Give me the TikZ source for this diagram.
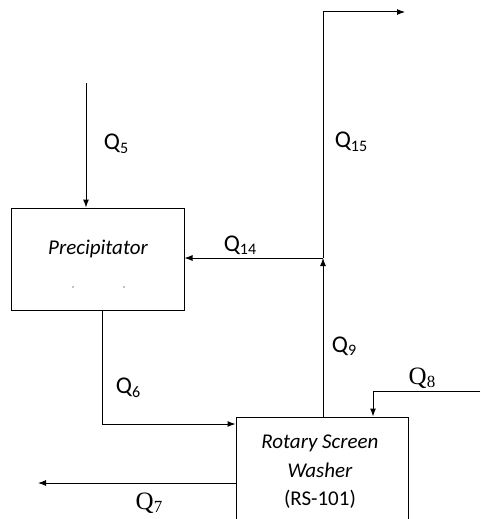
\documentclass[tikz,border=0pt]{standalone}
\usepackage{fontspec}
\setmainfont{Carlito}
\newfontfamily\serifq{Liberation Serif}
\usetikzlibrary{arrows.meta}
\newcommand\qsans[2]{\fontsize{24}{24}\selectfont #1\raisebox{-3.5pt}{\fontsize{16}{16}\selectfont #2}}
\newcommand\qserif[2]{{\serifq\fontsize{25}{25}\selectfont #1\raisebox{-3.5pt}{\fontsize{17}{17}\selectfont #2}}}
\tikzset{
  flow/.style={line width=1pt,-{Latex[length=8pt,width=6pt]}},
  unit/.style={draw,line width=1pt,rectangle,inner sep=0pt},
  lbl/.style={inner sep=0pt,anchor=center},
  utext/.style={inner sep=0pt,font=\fontsize{21}{28.5}\selectfont\itshape,align=center}
}
\begin{document}
\begin{tikzpicture}[x=1pt,y=-1pt]
\clip (0,0) rectangle (480,519);
\fill[white] (0,0) rectangle (480,519);
% units
\node[unit,minimum width=173pt,minimum height=102pt] (prec) at (97.5,259) {};
\node[utext] (prectext) at (98,249) {Precipitator};
\fill (73,287) circle (0.6pt);
\fill (124,287) circle (0.6pt);
\node[unit,minimum width=172pt,minimum height=140pt] (rsw) at (322,487) {};
\node[utext] (rswtext) at (320,472) {Rotary Screen\\Washer\\\upshape(RS-101)};
% coordinates
\coordinate (q5s) at (86,83);
\coordinate (j) at (323,258);
\coordinate (q15t) at (323,12);
\coordinate (q15e) at (405,12);
\coordinate (q8s) at (480,391);
\coordinate (q8c) at (373,391);
\coordinate (q6c) at (102,424);
\coordinate (q7e) at (38,483);
% connectors
\draw[flow] (q5s) -- (q5s |- prec.north);
\draw[flow] (prec.south -| q6c) -- (q6c) -- (q6c -| rsw.west);
\draw[flow] (rsw.north -| j) -- (j);
\draw[flow] (j) -- (j -| prec.east);
\draw[flow] (j) -- (q15t) -- (q15e);
\draw[flow] (q8s) -- (q8c) -- (q8c |- rsw.north);
\draw[flow] (rsw.west |- q7e) -- (q7e);
% labels
\node[lbl] (l5) at (116,144) {\qsans{Q}{5}};
\node[lbl] (l6) at (128,388) {\qsans{Q}{6}};
\node[lbl] (l9) at (344,346) {\qsans{Q}{9}};
\node[lbl] (l14) at (240,245) {\qsans{Q}{14}};
\node[lbl] (l15) at (351,142) {\qsans{Q}{15}};
\node[lbl] (l8) at (422,378) {\qserif{Q}{8}};
\node[lbl] (l7) at (149,503) {\qserif{Q}{7}};
\end{tikzpicture}
\end{document}
